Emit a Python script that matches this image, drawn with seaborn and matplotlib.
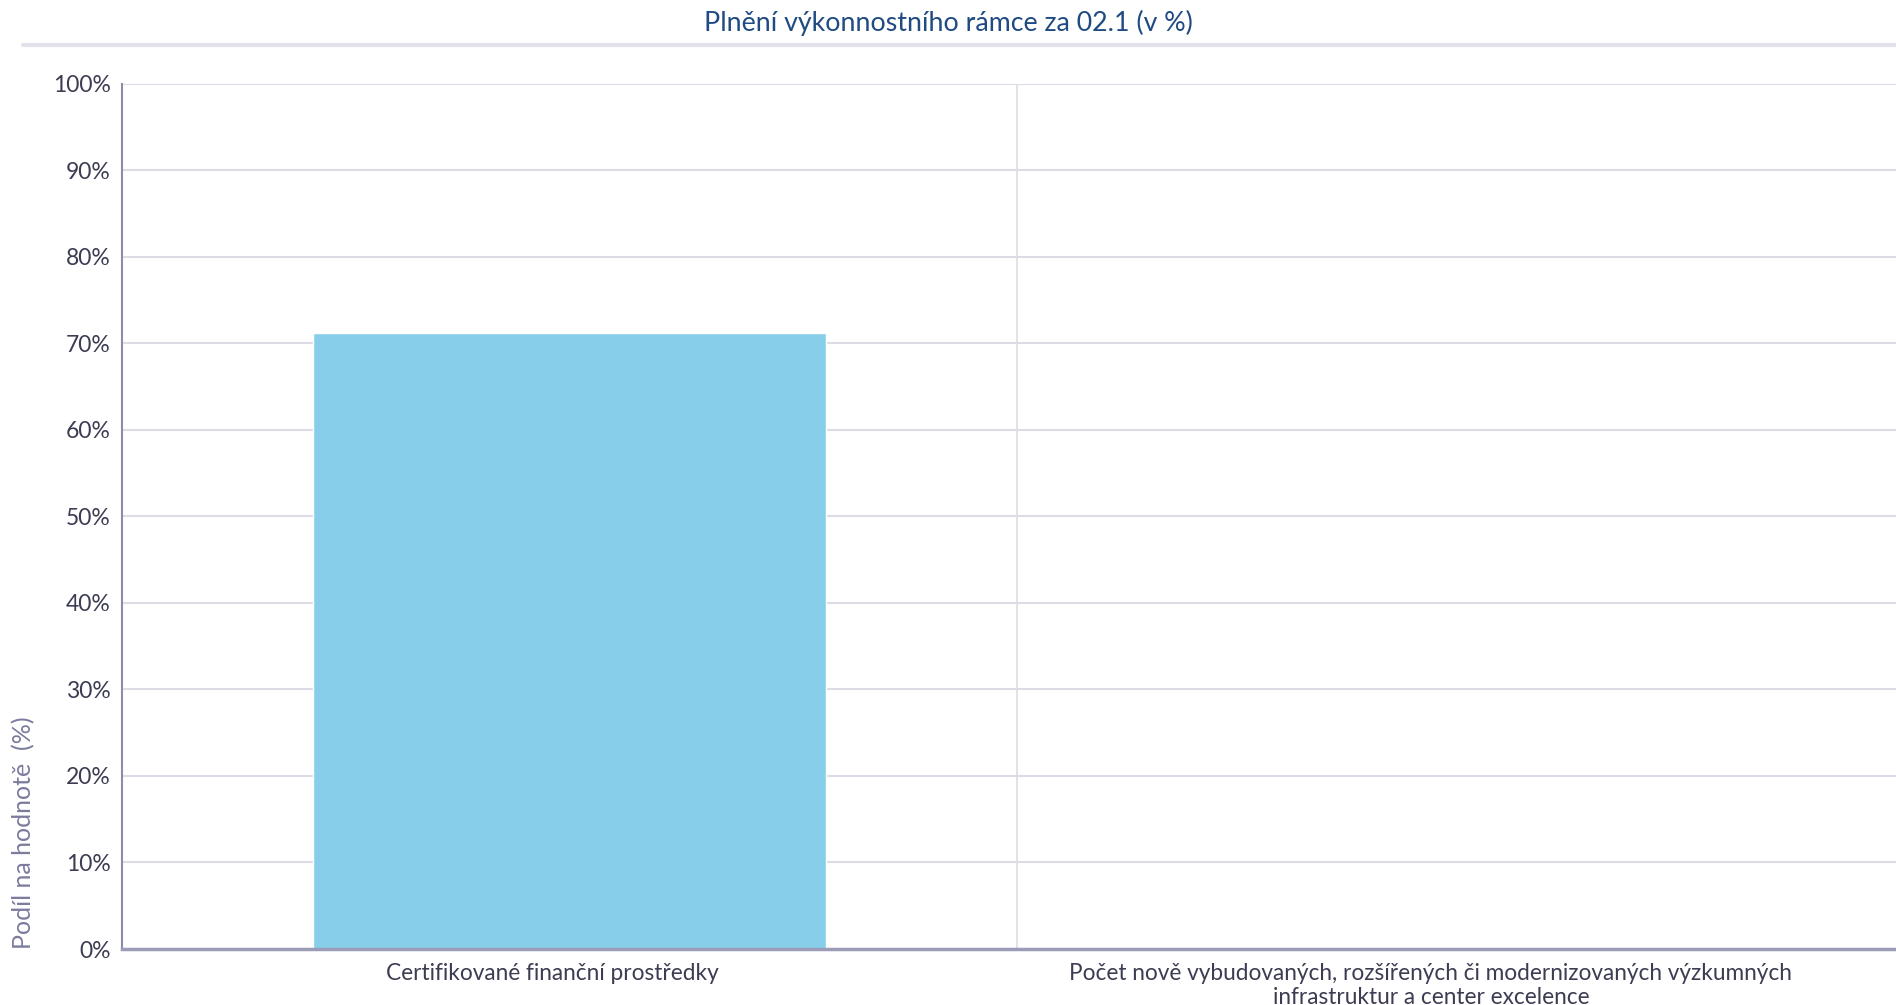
import pandas as pd
import seaborn as sns
import matplotlib.pyplot as plt
import matplotlib.transforms as mtransforms
from matplotlib.lines import Line2D
from matplotlib.ticker import MultipleLocator, PercentFormatter

# data
categories = ["Certifikované finanční prostředky",
              "Počet nově vybudovaných, rozšířených či modernizovaných výzkumných\ninfrastruktur a center excelence"]
values = [71.2, 0.0]

df = pd.DataFrame({"kategorie": categories, "podil": values})

sns.set_theme(style="white")
plt.rcParams['font.family'] = ['Lato', 'DejaVu Sans']

fig = plt.figure(figsize=(18.96, 10.05), dpi=100)
ax = fig.add_axes([122 / 1896, 1 - 949 / 1005, 1 - 122 / 1896, (949 - 83.5) / 1005])

sns.barplot(data=df, x="kategorie", y="podil", color="#87CEEB", saturation=1,
            width=0.573, ax=ax, zorder=3)

ax.set_ylim(0, 100)
ax.set_xlim(-0.5, 1.483)
ax.yaxis.set_major_locator(MultipleLocator(10))
ax.yaxis.set_major_formatter(PercentFormatter(decimals=0))

# grid: horizontal lines + category divider
ax.grid(axis="y", color="#dcdce6", lw=1.5, zorder=0)
ax.axvline(0.5, color="#dcdce6", lw=1.2, zorder=0)

for s in ["top", "right"]:
    ax.spines[s].set_visible(False)
ax.spines["left"].set_color("#8c8cab")
ax.spines["left"].set_linewidth(1.5)
ax.spines["bottom"].set_color("#9c9cb8")
ax.spines["bottom"].set_linewidth(2.5)
ax.spines["bottom"].set_zorder(4)

ax.tick_params(axis="y", length=0, labelsize=16.5, colors="#3c3c52", pad=8)
ax.tick_params(axis="x", length=0, labelsize=16.3, colors="#3c3c52", pad=10)

# labels in the reference sit a bit left of the category centres
for lab, dx in zip(ax.get_xticklabels(), [-17, -33]):
    lab.set_transform(lab.get_transform() +
                      mtransforms.ScaledTranslation(dx / 100, 0, fig.dpi_scale_trans))

ax.set_xlabel("")
ax.set_ylabel("")
fig.text(24 / 1896, 1 - 949 / 1005, "Podíl na hodnotě  (%)", rotation=90,
         ha="center", va="bottom", fontsize=18, color="#7b7b9e")

# title + header rule
fig.text(0.5, 1 - 23 / 1005, "Plnění výkonnostního rámce za 02.1 (v %)",
         ha="center", va="center", fontsize=19.3, color="#1f4b82")
fig.add_artist(Line2D([23 / 1896, 1], [1 - 45 / 1005] * 2, color="#e2e2ea", lw=3))

fig.savefig("out.png", dpi=100)
